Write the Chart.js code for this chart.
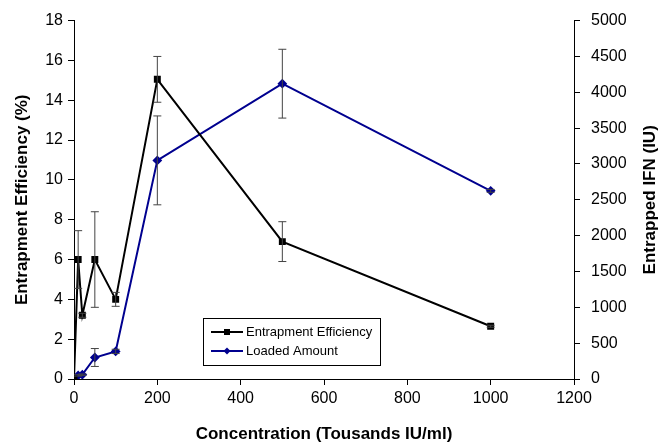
<!DOCTYPE html>
<html>
<head>
<meta charset="utf-8">
<script src="https://cdn.jsdelivr.net/npm/chart.js@4/dist/chart.umd.min.js"></script>
<style>
  html, body { margin: 0; padding: 0; background: #fff; }
  #wrap { width: 662px; height: 445px; }
</style>
</head>
<body>
<div id="wrap"><canvas id="entrapChart" width="662" height="445"></canvas></div>
<script>
// concentration (thousands IU/ml)
const concentration = [0, 10, 20, 50, 100, 200, 500, 1000]
// entrapment efficiency (%) and its error
const efficiency = [0, 6.0, 3.2, 6.0, 4.0, 15.05, 6.9, 2.65]
const efficiencyErr = [0, 1.45, 0.1, 2.4, 0.35, 1.15, 1.0, 0.05]
// loaded amount (IU) and its error
const loaded = [0, 50, 60, 300, 385, 3050, 4120, 2625]
const loadedErr = [0, 10, 10, 125, 30, 620, 480, 20]

const xTicks = [0, 200, 400, 600, 800, 1000, 1200]

const labelFont = { family: 'Liberation Sans, Arial', size: 16 }
const titleFont = { family: 'Liberation Sans, Arial', size: 17, weight: 'bold' }
const rightTitle = 'Entrapped IFN (IU)'

const toPoints = (ys) => concentration.map((x, i) => ({ x: x, y: ys[i] }))
const plain = (v) => String(v)

// draws vertical error bars with caps through the chart scales
const errorBars = {
    id: 'errorBars',
    afterDatasetsDraw(chart) {
        const ctx = chart.ctx
        const xs = chart.scales.x
        const sets = [
            { vals: efficiency, errs: efficiencyErr, scale: chart.scales.y },
            { vals: loaded, errs: loadedErr, scale: chart.scales.y2 }
        ]
        ctx.save()
        ctx.strokeStyle = '#444'
        ctx.lineWidth = 1
        sets.forEach((s) => {
            concentration.forEach((c, i) => {
                if (!s.errs[i]) return
                const px = xs.getPixelForValue(c)
                const top = s.scale.getPixelForValue(s.vals[i] + s.errs[i])
                const bot = s.scale.getPixelForValue(s.vals[i] - s.errs[i])
                ctx.beginPath()
                ctx.moveTo(px, top)
                ctx.lineTo(px, bot)
                ctx.moveTo(px - 4, top)
                ctx.lineTo(px + 4, top)
                ctx.moveTo(px - 4, bot)
                ctx.lineTo(px + 4, bot)
                ctx.stroke()
            })
        })
        ctx.restore()
    }
}

// right axis title, read bottom to top like the left one
const rightAxisTitle = {
    id: 'rightAxisTitle',
    afterDraw(chart) {
        const ctx = chart.ctx
        const area = chart.chartArea
        ctx.save()
        ctx.translate(650, (area.top + area.bottom) / 2)
        ctx.rotate(-Math.PI / 2)
        ctx.font = 'bold 17px Liberation Sans, Arial'
        ctx.fillStyle = '#000'
        ctx.textAlign = 'center'
        ctx.textBaseline = 'middle'
        ctx.fillText(rightTitle, 0, 0)
        ctx.restore()
    }
}

// boxed legend inside the plot area
const boxLegend = {
    id: 'boxLegend',
    afterDraw(chart) {
        const ctx = chart.ctx
        const x = 203, y = 318, w = 177, h = 47
        ctx.save()
        ctx.fillStyle = '#fff'
        ctx.fillRect(x, y, w, h)
        ctx.strokeStyle = '#000'
        ctx.lineWidth = 1
        ctx.strokeRect(x + 0.5, y + 0.5, w, h)
        ctx.font = '13px Liberation Sans, Arial'
        ctx.textBaseline = 'middle'
        chart.data.datasets.forEach((ds, i) => {
            const ly = y + 14 + i * 19
            ctx.strokeStyle = ds.borderColor
            ctx.lineWidth = 2
            ctx.beginPath()
            ctx.moveTo(x + 8, ly)
            ctx.lineTo(x + 40, ly)
            ctx.stroke()
            ctx.fillStyle = ds.borderColor
            ctx.beginPath()
            if (ds.pointStyle === 'rect') {
                ctx.rect(x + 21, ly - 3, 6, 6)
            } else {
                ctx.moveTo(x + 24, ly - 3.5)
                ctx.lineTo(x + 27.5, ly)
                ctx.lineTo(x + 24, ly + 3.5)
                ctx.lineTo(x + 20.5, ly)
                ctx.closePath()
            }
            ctx.fill()
            ctx.fillStyle = '#000'
            ctx.fillText(ds.label, x + 43, ly)
        })
        ctx.restore()
    }
}

const chart = new Chart(document.getElementById('entrapChart'), {
    type: 'line',
    data: {
        datasets: [
            {
                label: 'Entrapment Efficiency',
                data: toPoints(efficiency),
                yAxisID: 'y',
                borderColor: '#000',
                backgroundColor: '#000',
                borderWidth: 2,
                pointStyle: 'rect',
                pointRadius: 3.5,
                tension: 0
            },
            {
                label: 'Loaded Amount',
                data: toPoints(loaded),
                yAxisID: 'y2',
                borderColor: '#00008f',
                backgroundColor: '#00008f',
                borderWidth: 2,
                pointStyle: 'rectRot',
                pointRadius: 3.5,
                tension: 0
            }
        ]
    },
    options: {
        responsive: false,
        animation: false,
        layout: { padding: { top: 20, right: 0, left: 0, bottom: 0 } },
        plugins: {
            legend: { display: false },
            tooltip: { enabled: false }
        },
        scales: {
            x: {
                type: 'linear',
                min: 0,
                max: 1200,
                afterBuildTicks: (axis) => { axis.ticks = xTicks.map((v) => ({ value: v })) },
                afterFit: (axis) => { axis.height = 66 },
                border: { display: true, color: '#000', width: 1 },
                grid: { drawOnChartArea: false, drawTicks: true, tickLength: 6, color: '#000' },
                ticks: { color: '#000', font: labelFont, padding: 4, maxRotation: 0, callback: plain },
                title: {
                    display: true,
                    text: 'Concentration (Tousands IU/ml)',
                    color: '#000',
                    font: titleFont,
                    padding: { top: 11, bottom: 0 }
                }
            },
            y: {
                position: 'left',
                min: 0,
                max: 18,
                afterFit: (axis) => { axis.width = 74 },
                border: { display: true, color: '#000', width: 1 },
                grid: { drawOnChartArea: false, drawTicks: true, tickLength: 6, color: '#000' },
                ticks: { stepSize: 2, color: '#000', font: labelFont, padding: 5, callback: plain },
                title: {
                    display: true,
                    text: 'Entrapment Efficiency (%)',
                    color: '#000',
                    font: titleFont,
                    padding: { top: 12, bottom: 6 }
                }
            },
            y2: {
                position: 'right',
                min: 0,
                max: 5000,
                afterFit: (axis) => { axis.width = 88 },
                border: { display: true, color: '#000', width: 1 },
                grid: { drawOnChartArea: false, drawTicks: true, tickLength: 6, color: '#000' },
                ticks: { stepSize: 500, color: '#000', font: labelFont, padding: 11, callback: plain }
            }
        }
    },
    plugins: [errorBars, rightAxisTitle, boxLegend]
})
</script>
</body>
</html>
